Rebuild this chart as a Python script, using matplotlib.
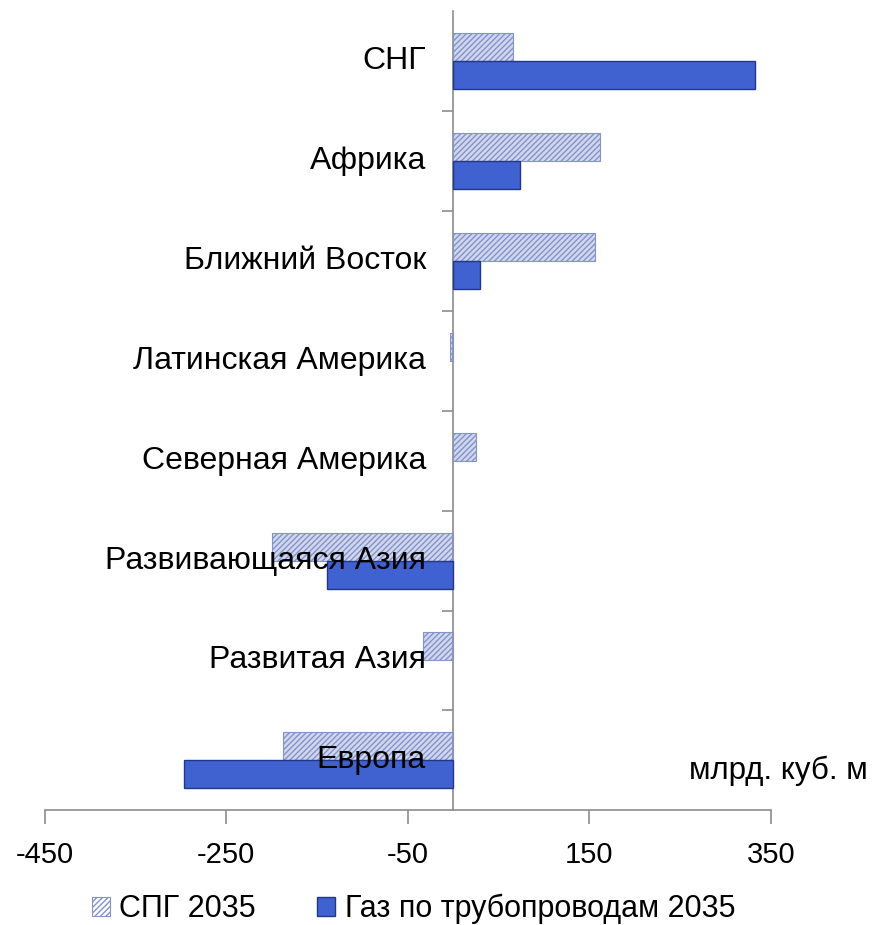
import matplotlib.pyplot as plt
import numpy as np

plt.rcParams['font.family'] = ['Liberation Sans', 'DejaVu Sans']

# regions, top to bottom
regiony = ["СНГ", "Африка", "Ближний Восток", "Латинская Америка",
           "Северная Америка", "Развивающаяся Азия", "Развитая Азия", "Европа"]
spg_2035 = [66, 162, 156, -3, 25, -200, -33, -188]       # СПГ 2035
truba_2035 = [332, 74, 30, 0, 0, -139, 0, -297]           # Газ по трубопроводам 2035
xticks = [-450, -250, -50, 150, 350]

fig = plt.figure(figsize=(8.76, 9.25), dpi=100)
ax = fig.add_axes([0.051, 0.124, 0.829, 0.864])

y = np.arange(len(regiony))
h = 0.28
spg = np.array(spg_2035, dtype=float)
truba = np.array(truba_2035, dtype=float)
nz = truba != 0

# СПГ: light face + diagonal hatch
ax.barh(y - h / 2, spg, height=h, color='#d0d7ef', edgecolor='none', zorder=2)
ax.barh(y - h / 2, spg, height=h, color='none', edgecolor='#8493c8',
        hatch='//////', linewidth=0.8, zorder=3, label='СПГ 2035')
# pipeline gas (zero values are not drawn)
ax.barh(y[nz] + h / 2, truba[nz], height=h, color='#3f62d0', edgecolor='#22368a',
        linewidth=1.0, zorder=3, label='Газ по трубопроводам 2035')

ax.set_xlim(-450, 350)
ax.set_ylim(len(regiony) - 0.5, -0.5)
ax.set_xticks(xticks)
ax.set_xticklabels([str(v) for v in xticks], fontsize=21)

# y axis at zero with ticks between categories
ax.spines['left'].set_position(('data', 0))
ax.spines['right'].set_visible(False)
ax.spines['top'].set_visible(False)
for s in ['left', 'bottom']:
    ax.spines[s].set_color('#8c8c8c')
    ax.spines[s].set_linewidth(1.2)
ax.set_yticks(np.arange(len(regiony) - 1) + 0.5)
ax.set_yticklabels([])
ax.tick_params(axis='y', length=8, color='#8c8c8c', width=1.2, direction='out')
ax.tick_params(axis='x', length=10, color='#8c8c8c', width=1.2, direction='out', pad=12)

# category labels to the left of zero line
for yi, name in zip(y, regiony):
    ax.text(-30, yi, name, ha='right', va='center', fontsize=23, zorder=5)

ax.text(0.887, 0.05, 'млрд. куб. м', transform=ax.transAxes, ha='left',
        va='center', fontsize=22.5)

leg = fig.legend(loc='center', bbox_to_anchor=(0.472, 0.017), ncol=2,
                 frameon=False, fontsize=22, handlelength=0.6, handleheight=0.6,
                 columnspacing=2.0, handletextpad=0.3, borderpad=0)

fig.savefig('out.png', dpi=100)
